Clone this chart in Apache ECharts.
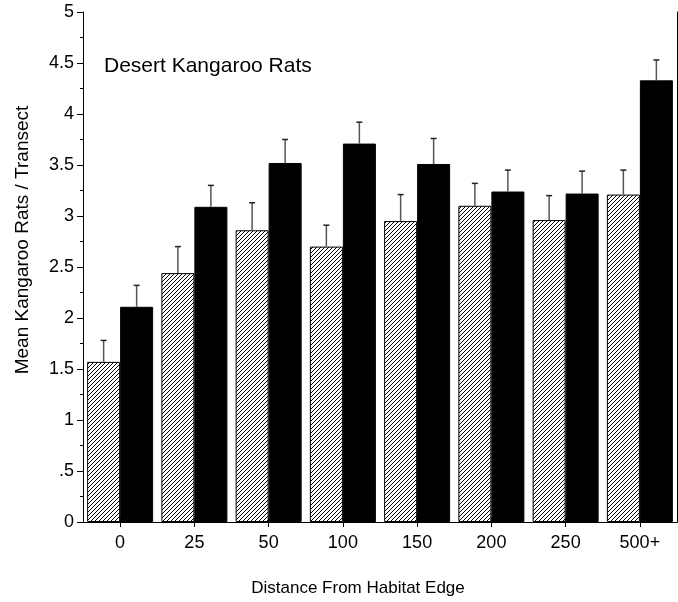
<!DOCTYPE html>
<html>
<head>
<meta charset="utf-8">
<script src="https://cdn.jsdelivr.net/npm/echarts@6/dist/echarts.min.js"></script>
<style>html,body{margin:0;padding:0;background:#fff}#c{width:678px;height:602px}</style>
</head>
<body>
<div id="c"></div>
<script>
const categories = ['0', '25', '50', '100', '150', '200', '250', '500+'];
const hatchedValues = [1.57, 2.44, 2.86, 2.70, 2.95, 3.10, 2.96, 3.21];
const hatchedErrTop = [1.78, 2.70, 3.13, 2.91, 3.21, 3.32, 3.20, 3.45];
const blackValues = [2.11, 3.09, 3.52, 3.71, 3.51, 3.24, 3.22, 4.33];
const blackErrTop = [2.32, 3.30, 3.75, 3.92, 3.76, 3.45, 3.44, 4.53];
const yTicks = [0, 0.5, 1, 1.5, 2, 2.5, 3, 3.5, 4, 4.5, 5];

const FONT = '"Liberation Sans", Arial, sans-serif';

// hatch pattern
const pc = document.createElement('canvas');
pc.width = 4; pc.height = 4;
const px = pc.getContext('2d');
px.fillStyle = '#fff'; px.fillRect(0, 0, 4, 4);
px.strokeStyle = '#000'; px.lineWidth = 1;
px.beginPath();
px.moveTo(-1, 5); px.lineTo(5, -1);
px.moveTo(-1, 1); px.lineTo(1, -1);
px.moveTo(3, 5); px.lineTo(5, 3);
px.stroke();

const BAR_W = 33;

function errSeries(vals, tops, offset) {
  return {
    type: 'custom',
    xAxisIndex: 0, yAxisIndex: 0,
    z: 5,
    data: vals.map((v, i) => [i, v, tops[i]]),
    renderItem: function (params, api) {
      const i = api.value(0);
      const p0 = api.coord([i, api.value(1)]);
      const p1 = api.coord([i, api.value(2)]);
      const x = p0[0] + offset;
      return {
        type: 'group',
        children: [
          { type: 'line', shape: { x1: x, y1: p0[1], x2: x, y2: p1[1] }, style: { stroke: '#555', lineWidth: 1.5 } },
          { type: 'line', shape: { x1: x - 3, y1: p1[1], x2: x + 3, y2: p1[1] }, style: { stroke: '#222', lineWidth: 1.5 } }
        ]
      };
    }
  };
}

const chart = echarts.init(document.getElementById('c'), null, { renderer: 'canvas' });
chart.setOption({
  animation: false,
  backgroundColor: '#fff',
  grid: { left: 83, right: 1, top: 12, bottom: 80, containLabel: false },
  xAxis: [
    {
      type: 'category', data: categories, position: 'bottom',
      axisLine: { show: true, lineStyle: { color: '#000', width: 1 } },
      axisTick: { show: true, alignWithLabel: true, length: 5, lineStyle: { color: '#000' } },
      axisLabel: { color: '#000', fontSize: 18, fontFamily: FONT, margin: 12 },
      splitLine: { show: false }
    },
    {
      type: 'category', data: categories, position: 'top',
      axisLine: { show: true, lineStyle: { color: '#000', width: 1 } },
      axisTick: { show: true, alignWithLabel: true, length: 4, lineStyle: { color: '#000' } },
      axisLabel: { show: false },
      splitLine: { show: false }
    }
  ],
  yAxis: [
    {
      type: 'value', min: 0, max: 5, interval: 0.5, position: 'left',
      axisLine: { show: true, lineStyle: { color: '#000', width: 1 } },
      axisTick: { show: true, length: 6, lineStyle: { color: '#000' } },
      minorTick: { show: true, splitNumber: 2, length: 3, lineStyle: { color: '#000' } },
      axisLabel: {
        color: '#000', fontSize: 18, fontFamily: FONT, margin: 9,
        formatter: function (v) {
          const t = yTicks.find(x => Math.abs(x - v) < 1e-9);
          const s = String(t !== undefined ? t : v);
          return s.startsWith('0.') ? s.slice(1) : s;
        }
      },
      splitLine: { show: false }
    },
    {
      type: 'value', min: 0, max: 5, interval: 0.5, position: 'right',
      axisLine: { show: true, lineStyle: { color: '#000', width: 1 } },
      axisTick: { show: false }, axisLabel: { show: false }, splitLine: { show: false }
    }
  ],
  series: [
    {
      type: 'bar', data: hatchedValues, barWidth: BAR_W, barGap: '0%',
      itemStyle: { color: { image: pc, repeat: 'repeat' }, borderColor: '#000', borderWidth: 1 }
    },
    {
      type: 'bar', data: blackValues, barWidth: BAR_W, barGap: '0%',
      itemStyle: { color: '#000', borderColor: '#000', borderWidth: 1 }
    },
    errSeries(hatchedValues, hatchedErrTop, -BAR_W / 2),
    errSeries(blackValues, blackErrTop, BAR_W / 2)
  ],
  graphic: [
    { type: 'text', left: 104, top: 56, style: { text: 'Desert Kangaroo Rats', font: '21px ' + FONT, fill: '#000' } },
    { type: 'text', x: 358, y: 588, style: { text: 'Distance From Habitat Edge', font: '17px ' + FONT, fill: '#000', align: 'center', verticalAlign: 'middle', letterSpacing: -0.4 } },
    { type: 'text', x: 23, y: 240, rotation: Math.PI / 2, style: { text: 'Mean Kangaroo Rats / Transect', font: '19px ' + FONT, fill: '#000', align: 'center', verticalAlign: 'middle' } }
  ]
});
</script>
</body>
</html>
